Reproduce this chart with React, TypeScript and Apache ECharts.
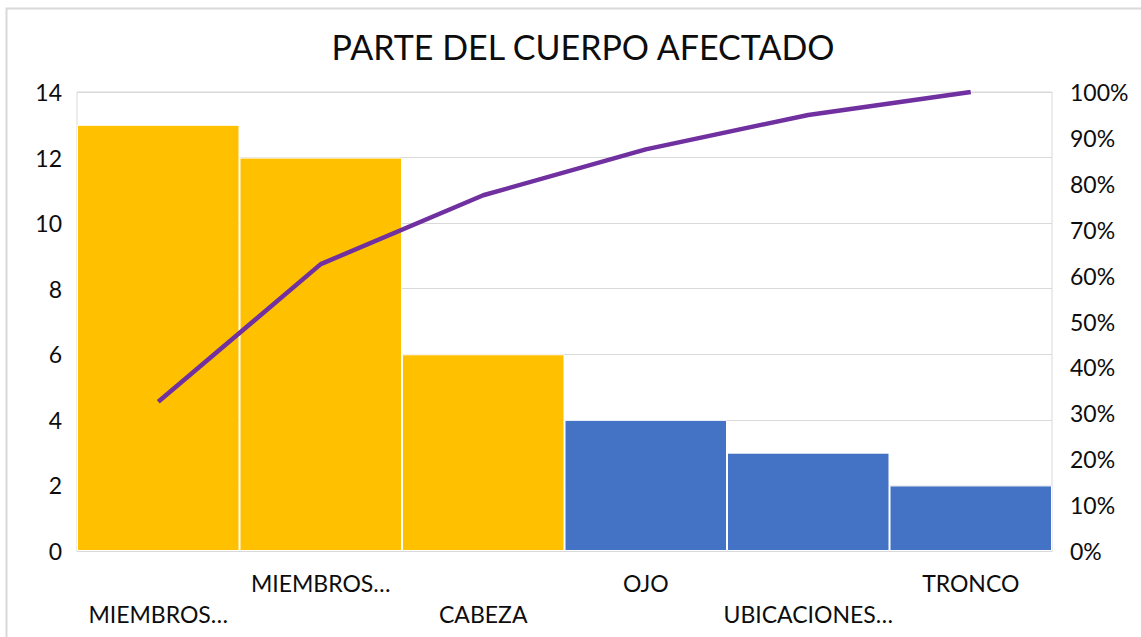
import React, { useEffect, useRef } from "react";
import * as echarts from "echarts";

const categories = ["MIEMBROS…", "MIEMBROS…", "CABEZA", "OJO", "UBICACIONES…", "TRONCO"];
const counts = [13, 12, 6, 4, 3, 2];
const barColors = ["#FFC000", "#FFC000", "#FFC000", "#4472C4", "#4472C4", "#4472C4"];
const cumulative = [0.325, 0.625, 0.775, 0.875, 0.95, 1.0];
const titleText = "PARTE DEL CUERPO AFECTADO";

const FONT = "Lato, 'Noto Sans', sans-serif";

export default function App() {
  const ref = useRef<HTMLDivElement>(null);
  useEffect(() => {
    document.body.style.margin = "0";
    const chart = echarts.init(ref.current!, null, { renderer: "svg" });
    chart.setOption({
      animation: false,
      backgroundColor: "#ffffff",
      title: {
        text: titleText,
        left: 578,
        textAlign: "center",
        top: 24,
        textStyle: { fontFamily: FONT, fontSize: 34, fontWeight: "normal", color: "#0d0d0d" },
      },
      graphic: [
        {
          type: "rect",
          shape: { x: 6.5, y: 8.5, width: 1300, height: 800 },
          style: { fill: "none", stroke: "#D9D9D9", lineWidth: 2 },
          silent: true,
        },
      ],
      grid: {
        left: 77,
        right: 89,
        top: 92,
        bottom: 86,
        show: true,
        borderColor: "#D9D9D9",
        borderWidth: 1,
        containLabel: false,
      },
      xAxis: {
        type: "category",
        data: categories,
        axisLine: { show: true, lineStyle: { color: "#D9D9D9" } },
        axisTick: { show: false },
        axisLabel: {
          interval: 0,
          margin: 16,
          fontFamily: FONT,
          fontSize: 23,
          color: "#0d0d0d",
          lineHeight: 31,
          formatter: (v: string, i: number) => (i % 2 === 0 ? "\n" + v : v),
        },
      },
      yAxis: [
        {
          type: "value",
          min: 0,
          max: 14,
          interval: 2,
          axisLine: { show: false },
          axisTick: { show: false },
          splitLine: { lineStyle: { color: "#D9D9D9" } },
          axisLabel: { margin: 15, fontFamily: FONT, fontSize: 23, color: "#0d0d0d" },
        },
        {
          type: "value",
          min: 0,
          max: 1,
          interval: 0.1,
          axisLine: { show: false },
          axisTick: { show: false },
          splitLine: { show: false },
          axisLabel: {
            margin: 18,
            fontFamily: FONT,
            fontSize: 23,
            color: "#0d0d0d",
            formatter: (v: number) => Math.round(v * 100) + "%",
          },
        },
      ],
      series: [
        {
          type: "bar",
          barCategoryGap: 0,
          data: counts.map((v, i) => ({ value: v, itemStyle: { color: barColors[i] } })),
          itemStyle: { borderColor: "#ffffff", borderWidth: 1 },
        },
        {
          type: "line",
          yAxisIndex: 1,
          data: cumulative,
          symbol: "none",
          lineStyle: { color: "#7030A0", width: 4.5 },
        },
      ],
    });
    return () => chart.dispose();
  }, []);
  return <div ref={ref} style={{ position: "fixed", left: 0, top: 0, width: 1141, height: 637 }} />;
}
